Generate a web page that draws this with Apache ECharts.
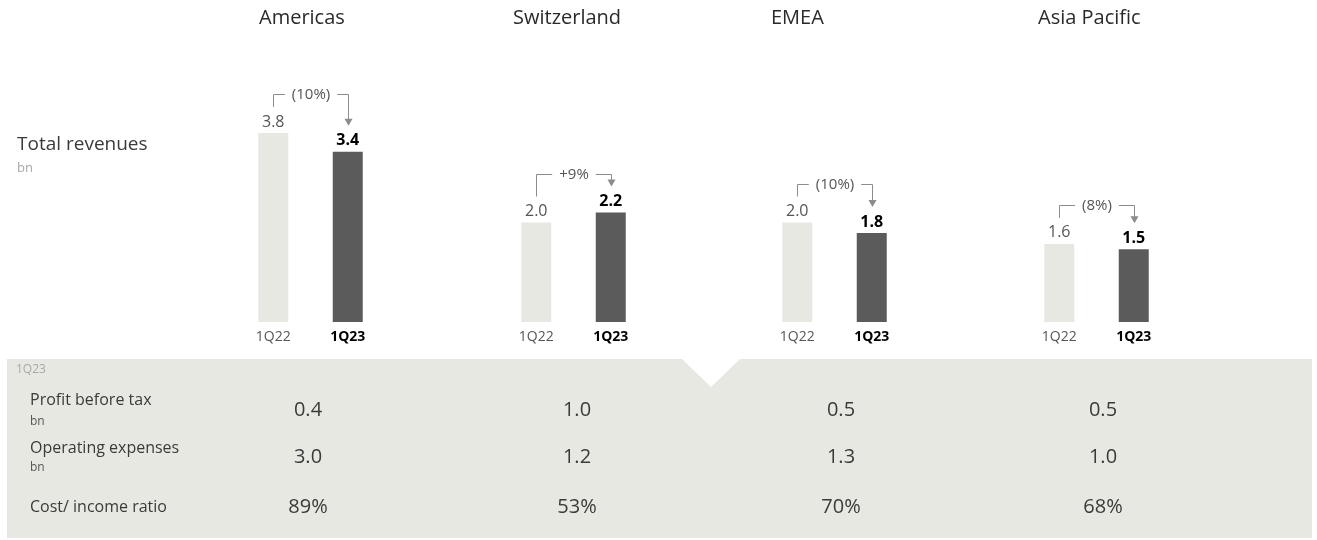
<!DOCTYPE html>
<html>
<head>
<meta charset="utf-8">
<script src="https://cdn.jsdelivr.net/npm/echarts@6/dist/echarts.min.js"></script>
<style>
  html, body { margin: 0; padding: 0; background: #fff; }
  #chart { width: 1317px; height: 540px; }
</style>
</head>
<body>
<div id="chart"></div>
<script>
// data
const regions = ['Americas', 'Switzerland', 'EMEA', 'Asia Pacific']
const periods = ['1Q22', '1Q23']
const revenue1Q22 = [3.8, 2.0, 2.0, 1.57]
const revenue1Q23 = [3.42, 2.2, 1.79, 1.46]
const changeLabels = ['(10%)', '+9%', '(10%)', '(8%)']
const tableRows = ['Profit before tax', 'Operating expenses', 'Cost/ income ratio']
const tableUnits = ['bn', 'bn', '']
const profitBeforeTax = ['0.4', '1.0', '0.5', '0.5']
const operatingExpenses = ['3.0', '1.2', '1.3', '1.0']
const costIncomeRatio = ['89%', '53%', '70%', '68%']

// layout
const FONT = '"Open Sans", "Noto Sans", sans-serif'
const GRID_LEFT = [236, 499, 760, 1022]
const GRID_WIDTH = 149
const GRID_TOP = 123
const GRID_HEIGHT = 199
const TITLE_LEFT = [259, 513, 771, 1038]
const TABLE_X = [308, 577, 841, 1103]
const VALUE_Y = [410, 457, 507]
const ROW_LABEL_Y = [400, 448, 507]
const UNIT_Y = [422, 468]

const COLORS = {
  light: '#e8e8e3',
  dark: '#5a5b5a',
  text: '#3a3a3a',
  muted: '#a8a8a8',
  line: '#8c8c8c',
}

const chart = echarts.init(document.getElementById('chart'), null, { renderer: 'canvas' })

const grids = regions.map((r, i) => ({
  left: GRID_LEFT[i],
  top: GRID_TOP,
  width: GRID_WIDTH,
  height: GRID_HEIGHT,
}))

const xAxes = regions.map((r, i) => ({
  type: 'category',
  gridIndex: i,
  data: periods,
  axisLine: { show: false },
  axisTick: { show: false },
  axisLabel: {
    interval: 0,
    hideOverlap: false,
    margin: 8,
    fontSize: 14,
    fontFamily: FONT,
    color: '#555',
    formatter: (v) => (v === '1Q23' ? '{b|' + v + '}' : v),
    rich: {
      b: { fontWeight: 'bold', color: '#000', fontSize: 14, fontFamily: FONT },
    },
  },
}))

const yAxes = regions.map((r, i) => ({
  type: 'value',
  gridIndex: i,
  min: 0,
  max: 4,
  show: false,
}))

const series = regions.map((r, i) => ({
  type: 'bar',
  xAxisIndex: i,
  yAxisIndex: i,
  barWidth: 30,
  silent: true,
  animation: false,
  label: {
    show: true,
    position: 'top',
    distance: 3,
    fontSize: 16,
    fontFamily: FONT,
    formatter: (p) => p.value.toFixed(1),
  },
  data: [
    { value: revenue1Q22[i], itemStyle: { color: COLORS.light }, label: { color: '#555' } },
    { value: revenue1Q23[i], itemStyle: { color: COLORS.dark }, label: { color: '#000', fontWeight: 'bold' } },
  ],
}))

const titles = regions.map((r, i) => ({
  text: r,
  left: TITLE_LEFT[i],
  top: 8,
  padding: 0,
  textStyle: { fontSize: 20, fontWeight: 'normal', color: '#2a2a2a', fontFamily: FONT },
}))
titles.push({
  text: 'Total revenues',
  subtext: 'bn',
  left: 17,
  top: 135,
  padding: 0,
  itemGap: 8,
  textStyle: { fontSize: 19, fontWeight: 'normal', color: '#3a3a3a', fontFamily: FONT },
  subtextStyle: { fontSize: 13, color: COLORS.muted, fontFamily: FONT },
})

chart.setOption({
  backgroundColor: '#fff',
  animation: false,
  title: titles,
  grid: grids,
  xAxis: xAxes,
  yAxis: yAxes,
  series: series,
})

// table band with the pointer notch, then table text and change brackets
const graphics = []
graphics.push({
  type: 'polygon',
  z: -10,
  silent: true,
  shape: {
    points: [[7, 359], [682, 359], [711, 387], [740, 359], [1312, 359], [1312, 538], [7, 538]],
  },
  style: { fill: COLORS.light },
})
graphics.push({
  type: 'text',
  x: 16,
  y: 370,
  style: { text: '1Q23', fill: COLORS.muted, font: '12px ' + FONT, verticalAlign: 'middle' },
})
tableRows.forEach((label, r) => {
  graphics.push({
    type: 'text',
    x: 30,
    y: ROW_LABEL_Y[r],
    style: { text: label, fill: COLORS.text, font: '16px ' + FONT, verticalAlign: 'middle' },
  })
  if (tableUnits[r]) {
    graphics.push({
      type: 'text',
      x: 30,
      y: UNIT_Y[r],
      style: { text: tableUnits[r], fill: '#555', font: '12px ' + FONT, verticalAlign: 'middle' },
    })
  }
})
const tableValues = [profitBeforeTax, operatingExpenses, costIncomeRatio]
tableValues.forEach((row, r) => {
  row.forEach((v, i) => {
    graphics.push({
      type: 'text',
      x: TABLE_X[i],
      y: VALUE_Y[r],
      style: { text: v, fill: COLORS.text, font: '20px ' + FONT, align: 'center', verticalAlign: 'middle' },
    })
  })
})

regions.forEach((r, i) => {
  const p1 = chart.convertToPixel({ gridIndex: i }, [0, revenue1Q22[i]])
  const p2 = chart.convertToPixel({ gridIndex: i }, [1, revenue1Q23[i]])
  const x1 = Math.round(p1[0]) + 0.5
  const x2 = Math.round(p2[0]) + 0.5
  const startY = p1[1] - 26
  const tipY = p2[1] - 26
  const bracketY = Math.round(Math.min(startY, tipY) - 13) + 0.5
  graphics.push({
    type: 'polyline',
    silent: true,
    shape: { points: [[x1, startY], [x1, bracketY], [x2, bracketY], [x2, tipY - 6]] },
    style: { stroke: COLORS.line, lineWidth: 1, fill: null },
  })
  graphics.push({
    type: 'polygon',
    silent: true,
    shape: { points: [[x2 - 4, tipY - 7], [x2 + 4, tipY - 7], [x2, tipY]] },
    style: { fill: COLORS.line },
  })
  graphics.push({
    type: 'text',
    silent: true,
    z: 10,
    x: (x1 + x2) / 2,
    y: bracketY,
    style: {
      text: changeLabels[i],
      fill: '#555',
      font: '15px ' + FONT,
      align: 'center',
      verticalAlign: 'middle',
      backgroundColor: '#fff',
      padding: [0, 7],
    },
  })
})

chart.setOption({ graphic: graphics })
</script>
</body>
</html>
